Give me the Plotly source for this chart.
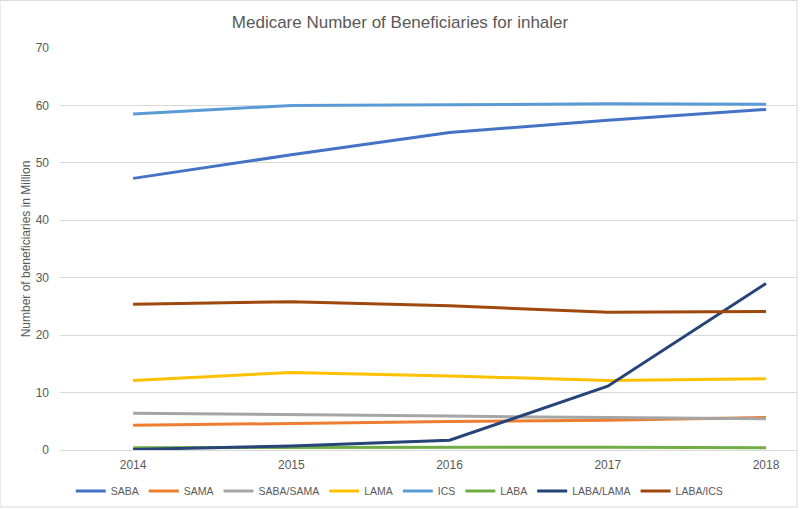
import plotly.graph_objects as go

years = ["2014", "2015", "2016", "2017", "2018"]
series_names = ["SABA", "SAMA", "SABA/SAMA", "LAMA", "ICS", "LABA", "LABA/LAMA", "LABA/ICS"]
saba = [47.3, 51.4, 55.3, 57.4, 59.3]
sama = [4.3, 4.65, 4.95, 5.2, 5.65]
saba_sama = [6.4, 6.2, 5.9, 5.65, 5.45]
lama = [12.1, 13.5, 12.9, 12.1, 12.4]
ics = [58.5, 60.0, 60.1, 60.3, 60.2]
laba = [0.4, 0.45, 0.5, 0.5, 0.4]
laba_lama = [0.1, 0.7, 1.7, 11.1, 29.0]
laba_ics = [25.4, 25.8, 25.1, 24.0, 24.1]
yticks = [0, 10, 20, 30, 40, 50, 60, 70]

values = [saba, sama, saba_sama, lama, ics, laba, laba_lama, laba_ics]
colors = ["#4472C4", "#ED7D31", "#A5A5A5", "#FFC000", "#5B9BD5", "#70AD47", "#264478", "#9E480E"]

fig = go.Figure()
for name, vals, col in zip(series_names, values, colors):
    fig.add_trace(go.Scatter(x=years, y=vals, name=name, mode="lines",
                             line=dict(color=col, width=3)))

font_fam = "Liberation Sans, Arial, sans-serif"
fig.update_layout(
    width=800, height=509,
    margin=dict(l=60, r=3, t=48, b=59, autoexpand=False),
    paper_bgcolor="white", plot_bgcolor="white",
    font=dict(family=font_fam, color="#595959", size=12),
    title=dict(text="Medicare Number of Beneficiaries for inhaler", x=0.5, xanchor="center",
               xref="container", yref="container",
               y=1 - 22 / 509, yanchor="middle", font=dict(size=17, color="#595959", family=font_fam)),
    legend=dict(orientation="h", x=0.461, xanchor="center", y=-0.102, yanchor="middle",
                font=dict(size=10.5, color="#595959"), itemwidth=30, tracegroupgap=0),
    showlegend=True,
)
fig.update_xaxes(type="category", range=[-0.462, 4.196], showgrid=False, showline=False,
                 ticks="", ticklabelstandoff=6, tickfont=dict(size=12, color="#595959"),
                 zeroline=False, automargin=False)
fig.update_yaxes(range=[0, 70], tickvals=yticks, showgrid=True, gridcolor="#D9D9D9", gridwidth=1,
                 zeroline=True, zerolinecolor="#D9D9D9", zerolinewidth=1,
                 showline=False, ticks="", ticklabelstandoff=10, automargin=False,
                 tickfont=dict(size=12, color="#595959"),
                 title=dict(text="Number of beneficiaries in Million", font=dict(size=12, color="#595959"),
                            standoff=2))
fig.add_shape(type="rect", xref="paper", yref="paper", x0=-0.0814, x1=1.0, y0=-0.1418, y1=1.118,
              line=dict(color="#D9D9D9", width=1), layer="below")
fig.write_html("out.html", config={"displayModeBar": False},
               post_script="document.body.style.margin='0px';")
